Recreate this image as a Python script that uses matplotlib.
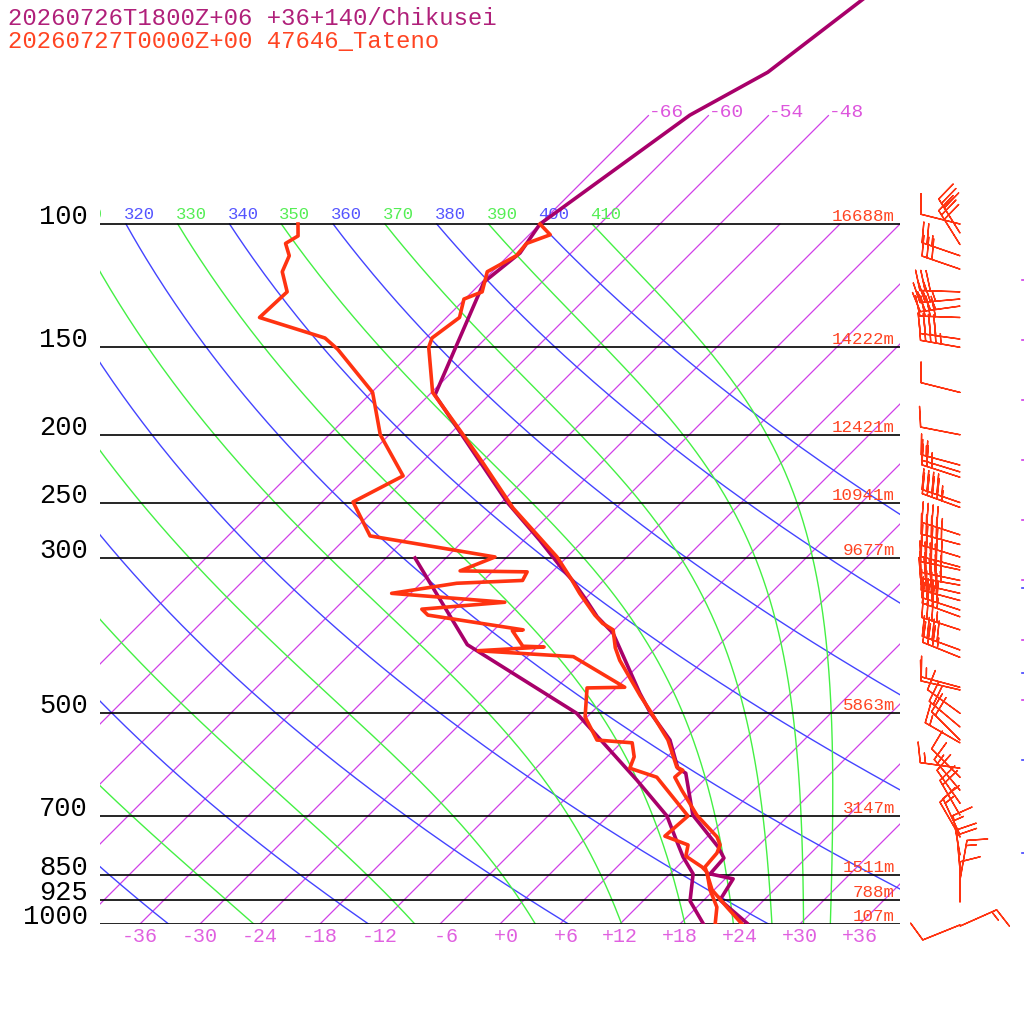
import numpy as np
import matplotlib
matplotlib.use('Agg')
import matplotlib.pyplot as plt
from matplotlib import transforms

# ---- data ----
# Chikusei forecast profile (purple)
chik_p = [997, 924, 862, 848, 805, 776, 699, 609, 599, 546, 498, 468, 384, 364, 345,
          323, 312, 283, 250, 175.5, 121, 110, 100, 69.9, 60.7, 44.8]
chik_t = [24.6, 19.6, 18.8, 16.0, 15.8, 14.1, 8.4, 3.5, 2.2, -1.4, -6.2, -9.1, -17.8, -21.0, -23.7,
          -27.1, -29.1, -34.4, -41.4, -59.4, -65.8, -65.1, -66.0, -61.9, -58.4, -55.6]
chik_td_p = [997, 927, 848, 802, 751, 701, 623, 500, 399, 300]
chik_td = [20.2, 16.7, 14.3, 11.6, 8.8, 5.9, -0.7, -13.4, -31.2, -45.1]

# Tateno sounding (red)
tat_p = [1007, 946, 894, 829, 792, 771, 751, 699, 644, 617, 603, 597, 546, 495, 472, 420, 403,
         380, 372, 362, 337, 320, 299, 278, 254.5, 219.5, 197, 174, 150, 145.5, 136, 128, 125,
         117, 111, 106.6, 103.6, 100]
tat_t = [24.6, 21.0, 17.8, 14.8, 14.6, 14.1, 13.0, 8.8, 4.8, 2.8, 2.9, 2.0, -1.6, -6.4, -8.8, -14.4,
         -16.1, -18.1, -19.8, -21.4, -25.1, -27.6, -31.0, -35.2, -40.3, -47.8, -53.4, -59.9, -64.8,
         -65.4, -64.7, -66.1, -65.0, -66.5, -65.2, -65.4, -63.9, -66.0]
tat_td_p = [1010, 1003, 946, 894, 843, 829, 800, 771, 749, 701, 617, 599, 577, 551, 546, 506, 460,
            459, 415, 407, 402, 401, 381, 380, 362, 355, 347, 337, 326, 323, 314, 313, 299, 279,
            249.5, 229, 200, 174, 151, 145.5, 136, 125, 117, 111, 106.6, 104, 100]
tat_td = [23.1, 21.6, 20.0, 17.6, 15.5, 14.5, 11.8, 10.9, 7.7, 8.0, 1.0, -2.6, -3.3, -4.9, -8.7,
          -12.2, -14.9, -11.2, -19.4, -29.5, -23.3, -25.5, -28.1, -27.1, -38.1, -39.3, -31.7, -43.9,
          -38.4, -32.1, -32.5, -39.3, -37.2, -51.8, -56.9, -54.5, -60.9, -65.9, -73.7, -76.1, -84.7,
          -84.5, -87.0, -87.9, -89.5, -89.0, -90.2]

# Tateno winds: pressure (hPa), direction (deg), speed (kt)
wind_p = [100, 103, 107, 111, 116, 125, 128, 131, 136, 146, 150, 174, 200, 221, 226, 230, 250,
          254, 278, 287, 299, 309, 312, 323, 328, 337, 345, 356, 364, 380, 406, 416, 459, 463,
          500, 523, 546, 551, 599, 617, 644, 672, 699, 746, 751, 797, 837, 865, 930, 1003, 1007]
wind_dir = [284, 328, 328, 289, 289, 272, 265, 262, 272, 278, 280, 284, 281, 285, 287, 288, 289,
            290, 288, 285, 287, 285, 282, 282, 280, 283, 285, 288, 290, 288, 290, 292, 285, 283,
            306, 310, 315, 300, 278, 315, 320, 325, 330, 335, 330, 350, 355, 10, 0, 248, 66]
wind_spd = [10, 30, 30, 25, 30, 30, 35, 35, 40, 40, 45, 10, 10, 15, 25, 25, 45, 45, 45, 45, 45, 45,
            45, 45, 45, 40, 40, 40, 35, 35, 40, 35, 15, 10, 10, 20, 20, 15, 15, 10, 15, 10, 20, 15,
            10, 15, 20, 15, 10, 10, 15]

# little marks left at the right edge by the cut-off second column
edge_p_violet = [120.2, 146.4, 178.3, 217.2, 264.5, 322.2, 392.4, 478.0]
edge_p_blue = [331.1, 437.9, 583.0, 791.7]

# standard levels and their heights
std_p = [100, 150, 200, 250, 300, 500, 700, 850, 925, 1000]
std_hgt = ['16688m', '14222m', '12421m', '10941m', '9677m', '5863m', '3147m', '1511m', '788m', '107m']

iso_t = np.arange(-66, 37, 6)
dry_theta = np.arange(240, 401, 20)
moist_theta = np.arange(250, 411, 20)
xtick_t = np.arange(-36, 37, 6)

title1 = '20260726T1800Z+06 +36+140/Chikusei'
title2 = '20260727T0000Z+00 47646_Tateno'

# ---- skew-T helpers ----
SKEW = 30.4  # degrees of x shift per ln(1000/p)
KAPPA = 0.2857
PTOP = 1000 * np.exp(-924 / 304.0)


def skew(t, p):
    return np.asarray(t) + SKEW * np.log(1000.0 / np.asarray(p))


def moist_adiabat(theta_e, p):
    Rd, Lv, cp, eps = 287.04, 2.501e6, 1005.7, 0.622

    def f(pp, T):
        tc = T - 273.15
        es = 6.112 * np.exp(17.67 * tc / (tc + 243.5))
        rs = eps * es / (pp - es)
        return (Rd * T + Lv * rs) / (cp + Lv * Lv * rs * eps / (Rd * T * T)) / pp

    T = theta_e * (p[0] / 1000.0) ** KAPPA
    out = [T]
    for i in range(1, len(p)):
        h = p[i] - p[i - 1]
        k1 = f(p[i - 1], T)
        k2 = f(p[i - 1] + h / 2, T + h * k1 / 2)
        k3 = f(p[i - 1] + h / 2, T + h * k2 / 2)
        k4 = f(p[i], T + h * k3)
        T = T + h * (k1 + 2 * k2 + 2 * k3 + k4) / 6
        out.append(T)
    return np.array(out) - 273.15


MONO = 'Liberation Mono'
PURPLE = '#a8006a'
RED = '#ff3311'
VIOLET = '#d040e8'

fig = plt.figure(figsize=(10.24, 10.24), dpi=100)
ax = fig.add_axes([100 / 1024, 100 / 1024, 800 / 1024, 924 / 1024])
ax.set_yscale('log')
ax.set_xlim(-40, 40)
ax.set_ylim(1000, PTOP)
for s in ax.spines.values():
    s.set_visible(False)
ax.set_yticks([])
ax.minorticks_off()
ax.set_xticks(xtick_t)
ax.set_xticklabels([f'{t:+3d}' for t in xtick_t], family=MONO, fontsize=14.4, color='#e060e0')
ax.tick_params(axis='x', length=0, pad=2)

# isobars
for p in std_p:
    ax.plot([-40, 40], [p, p], color='black', lw=1.2, zorder=2)

# isotherms
for t in iso_t:
    ptop = 70 if t <= -48 else 100
    pp = np.array([1000, ptop])
    ax.plot(skew([t, t], pp), pp, color=VIOLET, lw=0.9, zorder=1)
    if ptop == 70:
        ax.text(skew(t, 70), 70, f'{t:d}', family=MONO, fontsize=14, color='#dd55dd',
                ha='left', va='baseline',
                transform=transforms.offset_copy(ax.transData, fig=fig, x=0, y=-1, units='dots'))

lab_tr = transforms.offset_copy(ax.transData, fig=fig, x=-2, y=5, units='dots')
plev = np.linspace(100, 1000, 451)

# dry adiabats
for th in dry_theta:
    t = th * (plev / 1000.0) ** KAPPA - 273.15
    ax.plot(skew(t, plev), plev, color='#4444ff', lw=1.0, zorder=1)
    if skew(t[0], 100) > -44:
        ax.text(skew(t[0], 100), 100, f'{th}', family=MONO, fontsize=12.4, color='#5555ff',
                ha='left', va='baseline', transform=lab_tr, clip_on=True)

# moist adiabats
for th in moist_theta:
    t = moist_adiabat(th, plev)
    ax.plot(skew(t, plev), plev, color='#44f044', lw=1.0, zorder=1)
    if skew(t[0], 100) > -44:
        ax.text(skew(t[0], 100), 100, f'{th}', family=MONO, fontsize=12.4, color='#55ee55',
                ha='left', va='baseline', transform=lab_tr, clip_on=True)

# profiles
ax.plot(skew(chik_td, chik_td_p), chik_td_p, color=PURPLE, lw=2.6, zorder=4)
ax.plot(skew(chik_t, chik_p), chik_p, color=PURPLE, lw=2.6, zorder=4)
ax.plot(skew(tat_td, tat_td_p), tat_td_p, color=RED, lw=2.6, zorder=5)
ax.plot(skew(tat_t, tat_p), tat_p, color=RED, lw=2.6, zorder=5)

# pressure labels and heights
hgt_tr = transforms.offset_copy(ax.transData, fig=fig, x=0, y=3, units='dots')
for p, h in zip(std_p, std_hgt):
    ax.text(-41.2, p, str(p), family=MONO, fontsize=19.5, color='black',
            ha='right', va='baseline', clip_on=False)
    ax.text(39.5, p, h, family=MONO, fontsize=12.6, color='#ff4422',
            ha='right', va='baseline', transform=hgt_tr)

# titles
fig.text(8 / 1024, 1 - 25 / 1024, title1, family=MONO, fontsize=17.2, color='#b0207a', va='baseline')
fig.text(8 / 1024, 1 - 48 / 1024, title2, family=MONO, fontsize=17.2, color='#ff4422', va='baseline')

# wind barbs
wax = fig.add_axes([900 / 1024, 100 / 1024, 124 / 1024, 924 / 1024], sharey=ax)
wax.set_xlim(0, 124)
wax.axis('off')
wd = np.radians(wind_dir)
u = -np.array(wind_spd) * np.sin(wd)
v = -np.array(wind_spd) * np.cos(wd)
wax.barbs(np.full(len(wind_p), 60.0), wind_p, u, v, length=7.6, pivot='tip',
          barbcolor=RED, flagcolor=RED, linewidth=1.0,
          sizes=dict(height=0.5, spacing=0.13, width=0.25), clip_on=False)
for p in edge_p_violet:
    wax.plot([121.5, 124], [p, p], color=VIOLET, lw=1.2, clip_on=False)
for p in edge_p_blue:
    wax.plot([121.5, 124], [p, p], color='#4444ff', lw=1.2, clip_on=False)

fig.savefig('out.png', dpi=100)
